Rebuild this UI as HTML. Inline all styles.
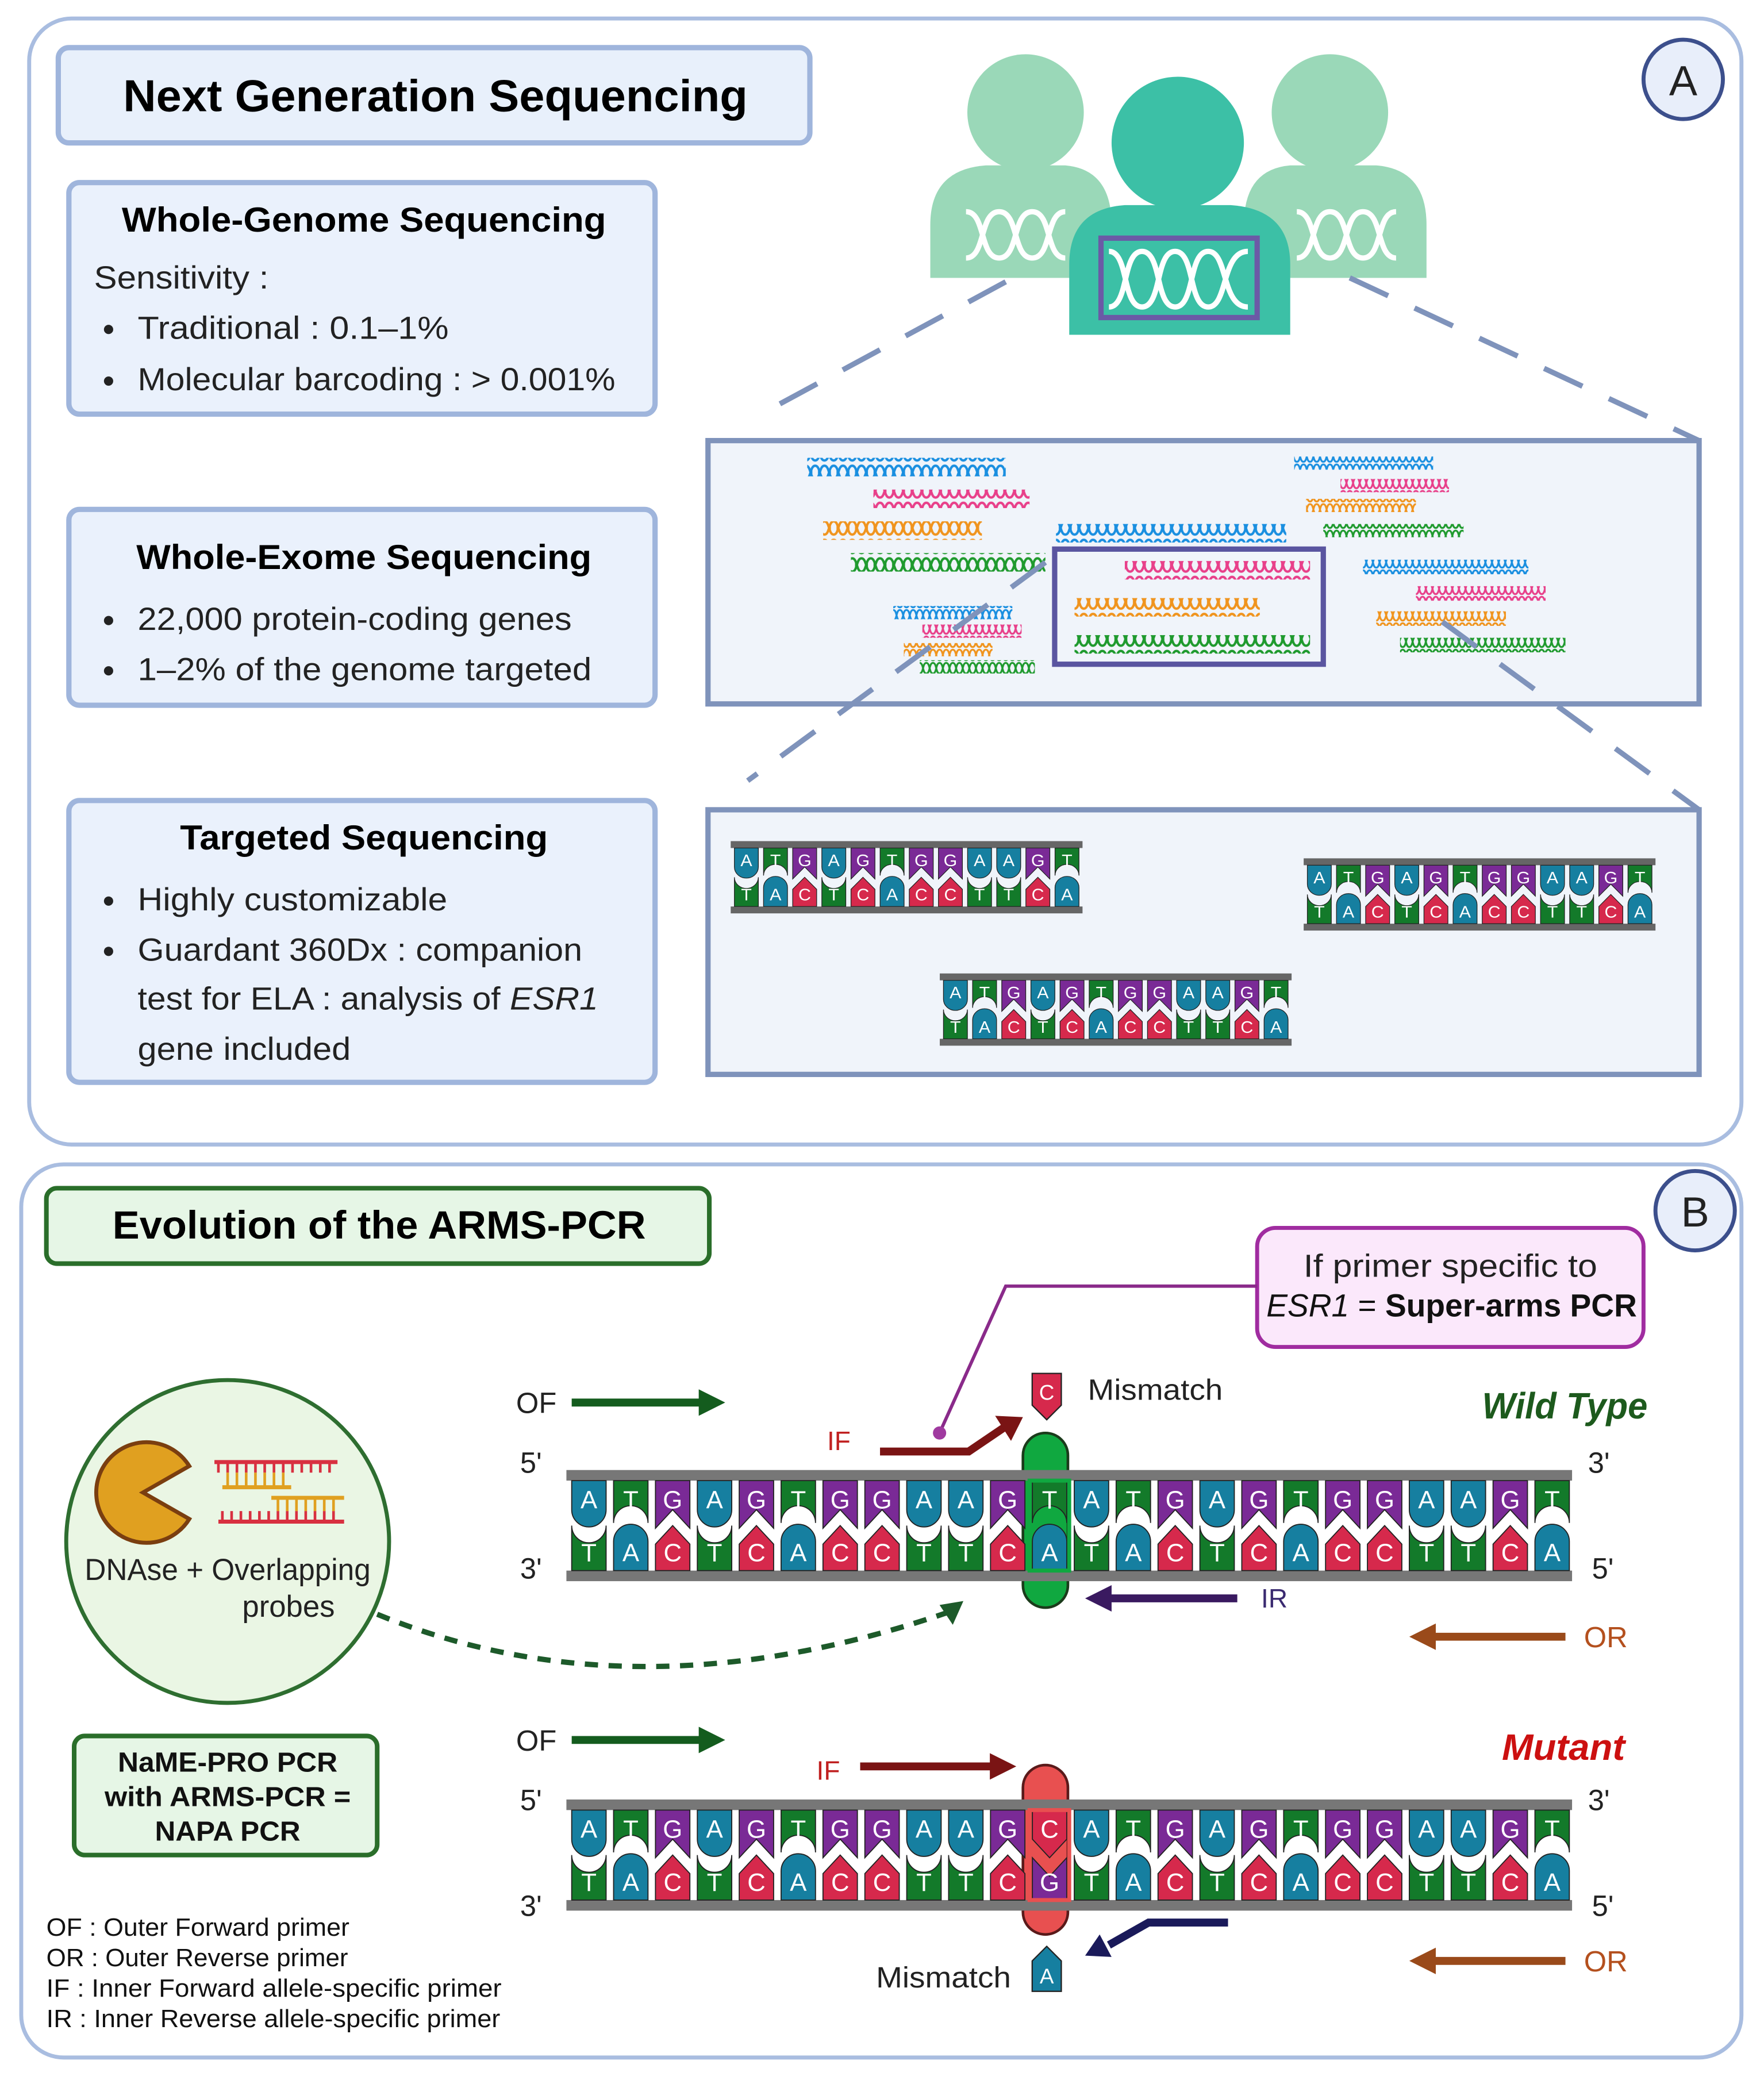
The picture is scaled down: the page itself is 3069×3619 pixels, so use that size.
<!DOCTYPE html>
<html><head><meta charset="utf-8"><style>
html,body{margin:0;padding:0;background:#fff}
svg{display:block}
text{font-family:"Liberation Sans",sans-serif}
.a{fill:#167fa0}.t{fill:#137a2a}.g{fill:#7a2a96}.c{fill:#d6294c}
use{stroke:#222;stroke-width:0.8}
.lt text{fill:#fff;font-size:19px;text-anchor:middle}
</style></head><body>
<svg width="3069" height="3619" viewBox="0 0 1333 1572" xmlns="http://www.w3.org/2000/svg">
<defs>
<path id="tA" d="M-13,-34H13V-12A13,13 0 0 1 -13,-12Z"/>
<path id="tT" d="M-13,-34H13V-2A13,13 0 0 0 -13,-2Z"/>
<path id="tG" d="M-13,-34H13V2L0,-12L-13,2Z"/>
<path id="tC" d="M-13,-34H13V-12L0,2L-13,-12Z"/>
<path id="bT" d="M-13,34V0A13,13 0 0 0 13,0V34Z"/>
<path id="bA" d="M-13,34V12A13,13 0 0 1 13,12V34Z"/>
<path id="bC" d="M-13,34V14L0,0L13,14V34Z"/>
<path id="bG" d="M-13,34V2L0,16L13,2V34Z"/>
<pattern id="hB" width="14" height="14" patternUnits="userSpaceOnUse"><path d="M0,2C4,2 3,12 7,12C11,12 10,2 14,2M0,12C4,12 3,2 7,2C11,2 10,12 14,12M3,5V9M11,5V9" fill="none" stroke="#1a8fe0" stroke-width="1.8"/></pattern>
<pattern id="hP" width="14" height="14" patternUnits="userSpaceOnUse"><path d="M0,2C4,2 3,12 7,12C11,12 10,2 14,2M0,12C4,12 3,2 7,2C11,2 10,12 14,12M3,5V9M11,5V9" fill="none" stroke="#e8408a" stroke-width="1.8"/></pattern>
<pattern id="hO" width="14" height="14" patternUnits="userSpaceOnUse"><path d="M0,2C4,2 3,12 7,12C11,12 10,2 14,2M0,12C4,12 3,2 7,2C11,2 10,12 14,12M3,5V9M11,5V9" fill="none" stroke="#f0941e" stroke-width="1.8"/></pattern>
<pattern id="hG" width="14" height="14" patternUnits="userSpaceOnUse"><path d="M0,2C4,2 3,12 7,12C11,12 10,2 14,2M0,12C4,12 3,2 7,2C11,2 10,12 14,12M3,5V9M11,5V9" fill="none" stroke="#1f9a2e" stroke-width="1.8"/></pattern>
<pattern id="hb" width="10" height="10" patternUnits="userSpaceOnUse"><path d="M0,1C3,1 2,9 5,9C8,9 7,1 10,1M0,9C3,9 2,1 5,1C8,1 7,9 10,9" fill="none" stroke="#1a8fe0" stroke-width="1.4"/></pattern>
<pattern id="hp" width="10" height="10" patternUnits="userSpaceOnUse"><path d="M0,1C3,1 2,9 5,9C8,9 7,1 10,1M0,9C3,9 2,1 5,1C8,1 7,9 10,9" fill="none" stroke="#e8408a" stroke-width="1.4"/></pattern>
<pattern id="ho" width="10" height="10" patternUnits="userSpaceOnUse"><path d="M0,1C3,1 2,9 5,9C8,9 7,1 10,1M0,9C3,9 2,1 5,1C8,1 7,9 10,9" fill="none" stroke="#f0941e" stroke-width="1.4"/></pattern>
<pattern id="hg" width="10" height="10" patternUnits="userSpaceOnUse"><path d="M0,1C3,1 2,9 5,9C8,9 7,1 10,1M0,9C3,9 2,1 5,1C8,1 7,9 10,9" fill="none" stroke="#1f9a2e" stroke-width="1.4"/></pattern>
<g id="S">
<use href="#tA" x="0" class="a"/><use href="#bT" x="0" class="t"/>
<use href="#tT" x="31.65" class="t"/><use href="#bA" x="31.65" class="a"/>
<use href="#tG" x="63.3" class="g"/><use href="#bC" x="63.3" class="c"/>
<use href="#tA" x="94.95" class="a"/><use href="#bT" x="94.95" class="t"/>
<use href="#tG" x="126.6" class="g"/><use href="#bC" x="126.6" class="c"/>
<use href="#tT" x="158.25" class="t"/><use href="#bA" x="158.25" class="a"/>
<use href="#tG" x="189.9" class="g"/><use href="#bC" x="189.9" class="c"/>
<use href="#tG" x="221.55" class="g"/><use href="#bC" x="221.55" class="c"/>
<use href="#tA" x="253.2" class="a"/><use href="#bT" x="253.2" class="t"/>
<use href="#tA" x="284.85" class="a"/><use href="#bT" x="284.85" class="t"/>
<use href="#tG" x="316.5" class="g"/><use href="#bC" x="316.5" class="c"/>
</g>
</defs>

<!-- Panel A -->
<rect x="22" y="14" width="1294" height="851" rx="32" fill="#fff" stroke="#a9bde0" stroke-width="3"/>
<rect x="44" y="36" width="568" height="72" rx="8" fill="#e8f0fb" stroke="#9fb5dc" stroke-width="4"/>
<text x="93" y="84" font-size="34" font-weight="bold" textLength="472" lengthAdjust="spacingAndGlyphs">Next Generation Sequencing</text>
<circle cx="1272" cy="60" r="30" fill="#e8eefa" stroke="#3c4f8c" stroke-width="3"/>
<text x="1272" y="72" font-size="32" text-anchor="middle" fill="#222">A</text>

<rect x="52" y="138" width="443" height="175" rx="8" fill="#eaf1fc" stroke="#9fb5dc" stroke-width="4"/>
<text x="92" y="175" font-size="26" font-weight="bold" textLength="366" lengthAdjust="spacingAndGlyphs">Whole-Genome Sequencing</text>
<g font-size="24" fill="#222">
<text x="71" y="218" textLength="132" lengthAdjust="spacingAndGlyphs">Sensitivity :</text>
<circle cx="82" cy="249" r="3.5"/><text x="104" y="256" textLength="235" lengthAdjust="spacingAndGlyphs">Traditional :  0.1–1%</text>
<circle cx="82" cy="288" r="3.5"/><text x="104" y="295" textLength="361" lengthAdjust="spacingAndGlyphs">Molecular barcoding : &gt; 0.001%</text>
</g>
<rect x="52" y="385" width="443" height="148" rx="8" fill="#eaf1fc" stroke="#9fb5dc" stroke-width="4"/>
<text x="103" y="430" font-size="26" font-weight="bold" textLength="344" lengthAdjust="spacingAndGlyphs">Whole-Exome Sequencing</text>
<g font-size="24" fill="#222">
<circle cx="82" cy="469" r="3.5"/><text x="104" y="476" textLength="328" lengthAdjust="spacingAndGlyphs">22,000 protein-coding genes</text>
<circle cx="82" cy="507" r="3.5"/><text x="104" y="514" textLength="343" lengthAdjust="spacingAndGlyphs">1–2% of the genome targeted</text>
</g>
<rect x="52" y="605" width="443" height="213" rx="8" fill="#eaf1fc" stroke="#9fb5dc" stroke-width="4"/>
<text x="136" y="642" font-size="26" font-weight="bold" textLength="278" lengthAdjust="spacingAndGlyphs">Targeted Sequencing</text>
<g font-size="24" fill="#222">
<circle cx="82" cy="681" r="3.5"/><text x="104" y="688" textLength="234" lengthAdjust="spacingAndGlyphs">Highly customizable</text>
<circle cx="82" cy="719" r="3.5"/><text x="104" y="726" textLength="336" lengthAdjust="spacingAndGlyphs">Guardant 360Dx : companion</text>
<text x="104" y="763" textLength="348" lengthAdjust="spacingAndGlyphs">test for ELA : analysis of <tspan font-style="italic">ESR1</tspan></text>
<text x="104" y="801" textLength="161" lengthAdjust="spacingAndGlyphs">gene included</text>
</g>

<!-- people -->
<g>
<circle cx="775" cy="85" r="44" fill="#9ad8b8"/>
<path d="M703,210V170Q703,128 745,125H805Q840,128 840,170V210Z" fill="#9ad8b8"/>
<circle cx="1005" cy="85" r="44" fill="#9ad8b8"/>
<path d="M940,210V170Q940,128 975,125H1040Q1078,128 1078,170V210Z" fill="#9ad8b8"/>
<circle cx="890" cy="108" r="50" fill="#3cc0a6"/>
<path d="M808,253V200Q808,158 850,155H930Q975,158 975,200V253Z" fill="#3cc0a6"/>
<path d="M730,160C745,160 740,195 755,195C770,195 765,160 780,160C795,160 790,195 805,195M730,195C745,195 740,160 755,160C770,160 765,195 780,195C795,195 790,160 805,160" fill="none" stroke="#fff" stroke-width="4"/>
<path d="M980,160C995,160 990,195 1005,195C1020,195 1015,160 1030,160C1045,160 1040,195 1055,195M980,195C995,195 990,160 1005,160C1020,160 1015,195 1030,195C1045,195 1040,160 1055,160" fill="none" stroke="#fff" stroke-width="4"/>
<path d="M838,190C853,190 848,232 863,232C878,232 873,190 888,190C903,190 898,232 913,232C928,232 923,190 943,190M838,232C853,232 848,190 863,190C878,190 873,232 888,232C903,232 898,190 913,190C928,190 923,232 943,232" fill="none" stroke="#fff" stroke-width="4"/>
<rect x="832" y="180" width="118" height="60" fill="none" stroke="#6b5aa6" stroke-width="4"/>
</g>
<g stroke="#7f93bb" stroke-width="4" stroke-dasharray="32,22" fill="none">
<line x1="760" y1="213" x2="575" y2="313"/>
<line x1="1020" y1="210" x2="1284" y2="333"/>
</g>
<rect x="535" y="333" width="749" height="199" fill="#f0f4fa" stroke="#7f93bb" stroke-width="4"/>
<g>
<rect x="610" y="346" width="150" height="14" fill="url(#hB)"/>
<rect x="660" y="370" width="118" height="14" fill="url(#hP)"/>
<rect x="622" y="394" width="120" height="14" fill="url(#hO)"/>
<rect x="643" y="418" width="147" height="14" fill="url(#hG)"/>
<rect x="798" y="396" width="174" height="14" fill="url(#hB)"/>
<rect x="850" y="424" width="140" height="14" fill="url(#hP)"/>
<rect x="812" y="452" width="140" height="14" fill="url(#hO)"/>
<rect x="812" y="480" width="178" height="14" fill="url(#hG)"/>
<rect x="978" y="345" width="105" height="10" fill="url(#hb)"/>
<rect x="1013" y="362" width="82" height="10" fill="url(#hp)"/>
<rect x="987" y="377" width="83" height="10" fill="url(#ho)"/>
<rect x="1000" y="396" width="106" height="10" fill="url(#hg)"/>
<rect x="1030" y="423" width="125" height="11" fill="url(#hb)"/>
<rect x="1070" y="443" width="98" height="11" fill="url(#hp)"/>
<rect x="1040" y="462" width="98" height="11" fill="url(#ho)"/>
<rect x="1058" y="482" width="125" height="11" fill="url(#hg)"/>
<rect x="675" y="458" width="90" height="10" fill="url(#hb)"/>
<rect x="697" y="472" width="75" height="10" fill="url(#hp)"/>
<rect x="683" y="486" width="67" height="10" fill="url(#ho)"/>
<rect x="695" y="499" width="87" height="10" fill="url(#hg)"/>
</g>
<rect x="797" y="415" width="203" height="87" fill="none" stroke="#5a55a0" stroke-width="4"/>
<g stroke="#7f93bb" stroke-width="4" stroke-dasharray="32,22" fill="none">
<line x1="790" y1="425" x2="565" y2="590"/>
<line x1="1090" y1="470" x2="1284" y2="612"/>
</g>
<rect x="535" y="612" width="749" height="200" fill="#f0f4fa" stroke="#7f93bb" stroke-width="4"/>

<!-- small ladders -->
<g transform="translate(564,663) scale(0.696,0.65)">
<rect x="-17" y="-42" width="382" height="8" fill="#666"/><rect x="-17" y="34" width="382" height="8" fill="#666"/>
<use href="#S" stroke="none"/><use href="#tT" x="348.15" class="t"/><use href="#bA" x="348.15" class="a"/>
<g class="lt"><text x="0" y="-13">A</text><text x="31.65" y="-13">T</text><text x="63.3" y="-13">G</text><text x="94.95" y="-13">A</text><text x="126.6" y="-13">G</text><text x="158.25" y="-13">T</text><text x="189.9" y="-13">G</text><text x="221.55" y="-13">G</text><text x="253.2" y="-13">A</text><text x="284.85" y="-13">A</text><text x="316.5" y="-13">G</text><text x="348.15" y="-13">T</text>
<text x="0" y="27">T</text><text x="31.65" y="27">A</text><text x="63.3" y="27">C</text><text x="94.95" y="27">T</text><text x="126.6" y="27">C</text><text x="158.25" y="27">A</text><text x="189.9" y="27">C</text><text x="221.55" y="27">C</text><text x="253.2" y="27">T</text><text x="284.85" y="27">T</text><text x="316.5" y="27">C</text><text x="348.15" y="27">A</text></g>
</g>
<g transform="translate(997,676) scale(0.696,0.65)">
<rect x="-17" y="-42" width="382" height="8" fill="#666"/><rect x="-17" y="34" width="382" height="8" fill="#666"/>
<use href="#S" stroke="none"/><use href="#tT" x="348.15" class="t"/><use href="#bA" x="348.15" class="a"/>
<g class="lt"><text x="0" y="-13">A</text><text x="31.65" y="-13">T</text><text x="63.3" y="-13">G</text><text x="94.95" y="-13">A</text><text x="126.6" y="-13">G</text><text x="158.25" y="-13">T</text><text x="189.9" y="-13">G</text><text x="221.55" y="-13">G</text><text x="253.2" y="-13">A</text><text x="284.85" y="-13">A</text><text x="316.5" y="-13">G</text><text x="348.15" y="-13">T</text>
<text x="0" y="27">T</text><text x="31.65" y="27">A</text><text x="63.3" y="27">C</text><text x="94.95" y="27">T</text><text x="126.6" y="27">C</text><text x="158.25" y="27">A</text><text x="189.9" y="27">C</text><text x="221.55" y="27">C</text><text x="253.2" y="27">T</text><text x="284.85" y="27">T</text><text x="316.5" y="27">C</text><text x="348.15" y="27">A</text></g>
</g>
<g transform="translate(722,763) scale(0.696,0.65)">
<rect x="-17" y="-42" width="382" height="8" fill="#666"/><rect x="-17" y="34" width="382" height="8" fill="#666"/>
<use href="#S" stroke="none"/><use href="#tT" x="348.15" class="t"/><use href="#bA" x="348.15" class="a"/>
<g class="lt"><text x="0" y="-13">A</text><text x="31.65" y="-13">T</text><text x="63.3" y="-13">G</text><text x="94.95" y="-13">A</text><text x="126.6" y="-13">G</text><text x="158.25" y="-13">T</text><text x="189.9" y="-13">G</text><text x="221.55" y="-13">G</text><text x="253.2" y="-13">A</text><text x="284.85" y="-13">A</text><text x="316.5" y="-13">G</text><text x="348.15" y="-13">T</text>
<text x="0" y="27">T</text><text x="31.65" y="27">A</text><text x="63.3" y="27">C</text><text x="94.95" y="27">T</text><text x="126.6" y="27">C</text><text x="158.25" y="27">A</text><text x="189.9" y="27">C</text><text x="221.55" y="27">C</text><text x="253.2" y="27">T</text><text x="284.85" y="27">T</text><text x="316.5" y="27">C</text><text x="348.15" y="27">A</text></g>
</g>

<!-- Panel B -->
<rect x="16" y="880" width="1300" height="675" rx="32" fill="#fff" stroke="#a9bde0" stroke-width="3"/>
<rect x="35" y="898" width="501" height="57" rx="8" fill="#e6f6e6" stroke="#2a6e2a" stroke-width="3.5"/>
<text x="85" y="936" font-size="30" font-weight="bold" textLength="403" lengthAdjust="spacingAndGlyphs">Evolution of the ARMS-PCR</text>
<circle cx="1281" cy="915" r="30" fill="#e8eefa" stroke="#3c4f8c" stroke-width="3"/>
<text x="1281" y="927" font-size="32" text-anchor="middle" fill="#222">B</text>

<rect x="950" y="928" width="292" height="90" rx="14" fill="#fbe8fb" stroke="#a02ca0" stroke-width="3"/>
<text x="985" y="965" font-size="24" fill="#222" textLength="222" lengthAdjust="spacingAndGlyphs">If primer specific to</text>
<text x="957" y="995" font-size="24" fill="#111" textLength="280" lengthAdjust="spacingAndGlyphs"><tspan font-style="italic">ESR1</tspan> = <tspan font-weight="bold">Super-arms PCR</tspan></text>
<polyline points="950,972 760,972 710,1083" fill="none" stroke="#8a2a8a" stroke-width="2.5"/>
<circle cx="710" cy="1083" r="5" fill="#a03aa0"/>

<!-- circle -->
<circle cx="172" cy="1165" r="122" fill="#eaf6e4" stroke="#2e6e30" stroke-width="3"/>
<path d="M108,1128 L143,1108 A38,38 0 1 0 143,1148 Z" fill="#e0a020" stroke="#7a3e10" stroke-width="3"/>
<g stroke-width="2">
<line x1="162" y1="1105" x2="255" y2="1105" stroke="#d83040" stroke-width="3"/>
<path d="M165,1105v8M172,1105v8M179,1105v8M186,1105v8M193,1105v8M200,1105v8M207,1105v8M214,1105v8M221,1105v8M228,1105v8M235,1105v8M242,1105v8M249,1105v8" stroke="#d83040"/>
<path d="M172,1113v10M179,1113v10M186,1113v10M193,1113v10M200,1113v10M207,1113v10M214,1113v10" stroke="#e0a020"/>
<line x1="168" y1="1124" x2="220" y2="1124" stroke="#e0a020" stroke-width="3"/>
<line x1="205" y1="1132" x2="260" y2="1132" stroke="#e0a020" stroke-width="3"/>
<path d="M210,1132v10M217,1132v10M224,1132v10M231,1132v10M238,1132v10M245,1132v10M252,1132v10" stroke="#e0a020"/>
<path d="M168,1142v8M175,1142v8M182,1142v8M189,1142v8M196,1142v8M203,1142v8M210,1142v8M217,1142v8M224,1142v8M231,1142v8M238,1142v8M245,1142v8M252,1142v8" stroke="#d83040"/>
<line x1="165" y1="1150" x2="260" y2="1150" stroke="#d83040" stroke-width="3"/>
</g>
<text x="64" y="1194" font-size="23" fill="#222" textLength="216" lengthAdjust="spacingAndGlyphs">DNAse + Overlapping</text>
<text x="183" y="1222" font-size="23" fill="#222" textLength="70" lengthAdjust="spacingAndGlyphs">probes</text>
<path d="M285,1220 Q480,1300 718,1218" fill="none" stroke="#1d5a2a" stroke-width="4" stroke-dasharray="10,8"/>
<path d="M728,1210 L710,1213 L720,1228 Z" fill="#1d5a2a"/>

<rect x="56" y="1312" width="229" height="90" rx="8" fill="#e6f6e6" stroke="#2a6e2a" stroke-width="3.5"/>
<g font-size="21" font-weight="bold" fill="#111">
<text x="89" y="1339" textLength="166" lengthAdjust="spacingAndGlyphs">NaME-PRO PCR</text>
<text x="79" y="1365" textLength="186" lengthAdjust="spacingAndGlyphs">with ARMS-PCR =</text>
<text x="117" y="1391" textLength="110" lengthAdjust="spacingAndGlyphs">NAPA PCR</text>
</g>
<g font-size="19" fill="#111">
<text x="35" y="1463" textLength="229" lengthAdjust="spacingAndGlyphs">OF : Outer Forward primer</text>
<text x="35" y="1486" textLength="228" lengthAdjust="spacingAndGlyphs">OR : Outer Reverse primer</text>
<text x="35" y="1509" textLength="344" lengthAdjust="spacingAndGlyphs">IF : Inner Forward allele-specific primer</text>
<text x="35" y="1532" textLength="343" lengthAdjust="spacingAndGlyphs">IR : Inner Reverse allele-specific primer</text>
</g>

<!-- WT labels & arrows -->
<g font-size="22" fill="#222">
<text x="390" y="1068">OF</text><text x="390" y="1323">OF</text>
<text x="393" y="1113">5'</text><text x="1200" y="1113">3'</text>
<text x="393" y="1193">3'</text><text x="1203" y="1193">5'</text>
<text x="393" y="1368">5'</text><text x="1200" y="1368">3'</text>
<text x="393" y="1448">3'</text><text x="1203" y="1448">5'</text>
<text x="822" y="1058" textLength="102" lengthAdjust="spacingAndGlyphs">Mismatch</text>
<text x="662" y="1502" textLength="102" lengthAdjust="spacingAndGlyphs">Mismatch</text>
</g>
<text x="625" y="1096" font-size="20" fill="#c02020">IF</text>
<text x="617" y="1345" font-size="20" fill="#c02020">IF</text>
<text x="953" y="1215" font-size="20" fill="#3a2a70">IR</text>
<text x="1197" y="1245" font-size="22" fill="#b4501e">OR</text>
<text x="1197" y="1490" font-size="22" fill="#b4501e">OR</text>
<text x="1245" y="1072" font-size="28" font-weight="bold" font-style="italic" fill="#1d5a1d" text-anchor="end" textLength="125" lengthAdjust="spacingAndGlyphs">Wild Type</text>
<text x="1228" y="1330" font-size="28" font-weight="bold" font-style="italic" fill="#cc1010" text-anchor="end" textLength="93" lengthAdjust="spacingAndGlyphs">Mutant</text>

<g>
<line x1="432" y1="1060" x2="530" y2="1060" stroke="#145c1e" stroke-width="6"/><path d="M528,1050 L548,1060 L528,1070Z" fill="#145c1e"/>
<line x1="432" y1="1315" x2="530" y2="1315" stroke="#145c1e" stroke-width="6"/><path d="M528,1305 L548,1315 L528,1325Z" fill="#145c1e"/>
<polyline points="665,1097 732,1097 760,1078" fill="none" stroke="#7a1414" stroke-width="6"/><path d="M752,1070 L773,1071 L764,1089Z" fill="#7a1414"/>
<line x1="650" y1="1335" x2="750" y2="1335" stroke="#7a1414" stroke-width="6"/><path d="M748,1325 L768,1335 L748,1345Z" fill="#7a1414"/>
<line x1="935" y1="1208" x2="838" y2="1208" stroke="#3a1a60" stroke-width="6"/><path d="M840,1198 L820,1208 L840,1218Z" fill="#3a1a60"/>
<line x1="1183" y1="1237" x2="1083" y2="1237" stroke="#9a4a1a" stroke-width="6"/><path d="M1085,1227 L1065,1237 L1085,1247Z" fill="#9a4a1a"/>
<line x1="1183" y1="1482" x2="1083" y2="1482" stroke="#9a4a1a" stroke-width="6"/><path d="M1085,1472 L1065,1482 L1085,1492Z" fill="#9a4a1a"/>
<polyline points="928,1453 868,1453 838,1470" fill="none" stroke="#1a1a5a" stroke-width="6"/><path d="M831,1462 L820,1478 L840,1479Z" fill="#1a1a5a"/>
</g>
<!-- tags -->
<path d="M780,1038H802V1062L791,1073L780,1062Z" fill="#d6294c" stroke="#222" stroke-width="1"/>
<text x="791" y="1058" font-size="16" fill="#fff" text-anchor="middle">C</text>
<path d="M780,1505H802V1482L791,1471L780,1482Z" fill="#167fa0" stroke="#222" stroke-width="1"/>
<text x="791" y="1499" font-size="16" fill="#fff" text-anchor="middle">A</text>

<!-- WT ladder -->
<rect x="773" y="1083" width="34" height="132" rx="17" fill="#10a840" stroke="#1b3b1b" stroke-width="2"/>
<g transform="translate(445,1153)">
<rect x="-17" y="-42" width="760" height="8" fill="#777"/><rect x="-17" y="34" width="760" height="8" fill="#777"/>
<use href="#S"/><use href="#tT" x="348.15" class="t"/><use href="#bA" x="348.15" class="a"/>
<g transform="translate(379.8,0)"><use href="#S"/><use href="#tT" x="348.15" class="t"/><use href="#bA" x="348.15" class="a"/></g>
<rect x="333" y="-34" width="30" height="68" fill="none" stroke="#10a840" stroke-width="3"/>
<g class="lt">
<text x="0" y="-13">A</text><text x="31.65" y="-13">T</text><text x="63.3" y="-13">G</text><text x="94.95" y="-13">A</text><text x="126.6" y="-13">G</text><text x="158.25" y="-13">T</text><text x="189.9" y="-13">G</text><text x="221.55" y="-13">G</text><text x="253.2" y="-13">A</text><text x="284.85" y="-13">A</text><text x="316.5" y="-13">G</text><text x="348.15" y="-13">T</text>
<text x="379.8" y="-13">A</text><text x="411.45" y="-13">T</text><text x="443.1" y="-13">G</text><text x="474.75" y="-13">A</text><text x="506.4" y="-13">G</text><text x="538.05" y="-13">T</text><text x="569.7" y="-13">G</text><text x="601.35" y="-13">G</text><text x="633" y="-13">A</text><text x="664.65" y="-13">A</text><text x="696.3" y="-13">G</text><text x="727.95" y="-13">T</text>
<text x="0" y="27">T</text><text x="31.65" y="27">A</text><text x="63.3" y="27">C</text><text x="94.95" y="27">T</text><text x="126.6" y="27">C</text><text x="158.25" y="27">A</text><text x="189.9" y="27">C</text><text x="221.55" y="27">C</text><text x="253.2" y="27">T</text><text x="284.85" y="27">T</text><text x="316.5" y="27">C</text><text x="348.15" y="27">A</text>
<text x="379.8" y="27">T</text><text x="411.45" y="27">A</text><text x="443.1" y="27">C</text><text x="474.75" y="27">T</text><text x="506.4" y="27">C</text><text x="538.05" y="27">A</text><text x="569.7" y="27">C</text><text x="601.35" y="27">C</text><text x="633" y="27">T</text><text x="664.65" y="27">T</text><text x="696.3" y="27">C</text><text x="727.95" y="27">A</text>
</g></g>

<!-- Mutant ladder -->
<rect x="773" y="1334" width="34" height="128" rx="17" fill="#e85050" stroke="#5a1a1a" stroke-width="2"/>
<g transform="translate(445,1402)">
<rect x="-17" y="-42" width="760" height="8" fill="#777"/><rect x="-17" y="34" width="760" height="8" fill="#777"/>
<use href="#S"/><use href="#tC" x="348.15" class="c"/><use href="#bG" x="348.15" class="g"/>
<g transform="translate(379.8,0)"><use href="#S"/><use href="#tT" x="348.15" class="t"/><use href="#bA" x="348.15" class="a"/></g>
<rect x="333" y="-34" width="30" height="68" fill="none" stroke="#e85050" stroke-width="3"/>
<g class="lt">
<text x="0" y="-13">A</text><text x="31.65" y="-13">T</text><text x="63.3" y="-13">G</text><text x="94.95" y="-13">A</text><text x="126.6" y="-13">G</text><text x="158.25" y="-13">T</text><text x="189.9" y="-13">G</text><text x="221.55" y="-13">G</text><text x="253.2" y="-13">A</text><text x="284.85" y="-13">A</text><text x="316.5" y="-13">G</text><text x="348.15" y="-13">C</text>
<text x="379.8" y="-13">A</text><text x="411.45" y="-13">T</text><text x="443.1" y="-13">G</text><text x="474.75" y="-13">A</text><text x="506.4" y="-13">G</text><text x="538.05" y="-13">T</text><text x="569.7" y="-13">G</text><text x="601.35" y="-13">G</text><text x="633" y="-13">A</text><text x="664.65" y="-13">A</text><text x="696.3" y="-13">G</text><text x="727.95" y="-13">T</text>
<text x="0" y="27">T</text><text x="31.65" y="27">A</text><text x="63.3" y="27">C</text><text x="94.95" y="27">T</text><text x="126.6" y="27">C</text><text x="158.25" y="27">A</text><text x="189.9" y="27">C</text><text x="221.55" y="27">C</text><text x="253.2" y="27">T</text><text x="284.85" y="27">T</text><text x="316.5" y="27">C</text><text x="348.15" y="27">G</text>
<text x="379.8" y="27">T</text><text x="411.45" y="27">A</text><text x="443.1" y="27">C</text><text x="474.75" y="27">T</text><text x="506.4" y="27">C</text><text x="538.05" y="27">A</text><text x="569.7" y="27">C</text><text x="601.35" y="27">C</text><text x="633" y="27">T</text><text x="664.65" y="27">T</text><text x="696.3" y="27">C</text><text x="727.95" y="27">A</text>
</g></g>
</svg>
</body></html>
